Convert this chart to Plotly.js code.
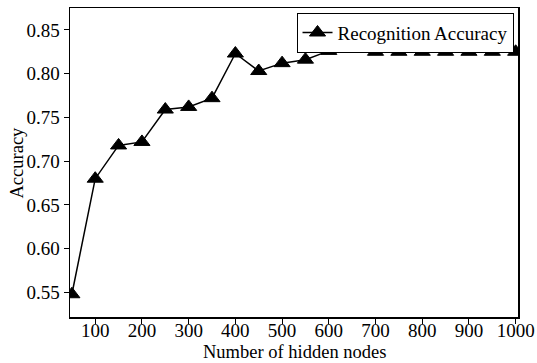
<!DOCTYPE html>
<html>
<head>
<meta charset="utf-8">
<script src="https://cdn.plot.ly/plotly-3.0.1.min.js"></script>
<style>html,body{margin:0;padding:0;background:#fff;}#chart{width:537px;height:363px;}</style>
</head>
<body>
<div id="chart"></div>
<script>
const hiddenNodes = [50,100,150,200,250,300,350,400,450,500,550,600,650,700,750,800,850,900,950,1000];
const accuracy = [0.548,0.680,0.718,0.722,0.759,0.762,0.772,0.823,0.803,0.812,0.816,0.826,0.830,0.825,0.825,0.825,0.825,0.825,0.825,0.825];
const xTicks = [100,200,300,400,500,600,700,800,900,1000];
const yTicks = [0.55,0.60,0.65,0.70,0.75,0.80,0.85];
const xTitle = 'Number of hidden nodes';
const yTitle = 'Accuracy';

const font = {family: '"Liberation Serif", "Times New Roman", serif', size: 19, color: '#000'};
const titleFont = {family: font.family, size: 18.5, color: '#000'};

Plotly.newPlot('chart', [{
  x: hiddenNodes, y: accuracy, type: 'scatter', mode: 'lines+markers',
  name: 'Recognition Accuracy',
  line: {color: '#000', width: 1.5},
  marker: {symbol: 'triangle-up', size: 14, color: '#000', line: {color: '#000', width: 1}}
}], {
  width: 537, height: 363,
  margin: {l: 70, r: 19, t: 8, b: 46},
  paper_bgcolor: '#fff', plot_bgcolor: '#fff',
  font: font,
  showlegend: true,
  legend: {x: 0.99, y: 0.985, xanchor: 'right', yanchor: 'top', bordercolor: '#000', borderwidth: 1,
           bgcolor: '#fff', font: font, tracegroupgap: 0, itemwidth: 30},
  xaxis: {range: [46, 1005], tickvals: xTicks, ticktext: xTicks.map(String), ticks: 'outside', ticklen: 5,
          tickcolor: '#000', showline: true, linecolor: '#000', linewidth: 1.5, mirror: true,
          showgrid: false, zeroline: false, tickfont: font, ticklabelstandoff: -9},
  yaxis: {range: [0.522, 0.875], tickvals: yTicks, ticktext: yTicks.map(v => v.toFixed(2)), ticks: 'outside', ticklen: 5,
          tickcolor: '#000', showline: true, linecolor: '#000', linewidth: 1.5, mirror: true,
          showgrid: false, zeroline: false, tickfont: font},
  annotations: [
    {text: xTitle, xref: 'paper', yref: 'paper', x: 0.5, y: -0.1489, xanchor: 'center', yanchor: 'bottom',
     showarrow: false, font: titleFont, borderpad: 0},
    {text: yTitle, xref: 'paper', yref: 'paper', x: -0.1205, y: 0.5, xanchor: 'center', yanchor: 'middle',
     textangle: -90, showarrow: false, font: titleFont}
  ]
}, {displayModeBar: false, staticPlot: true});
</script>
</body>
</html>
